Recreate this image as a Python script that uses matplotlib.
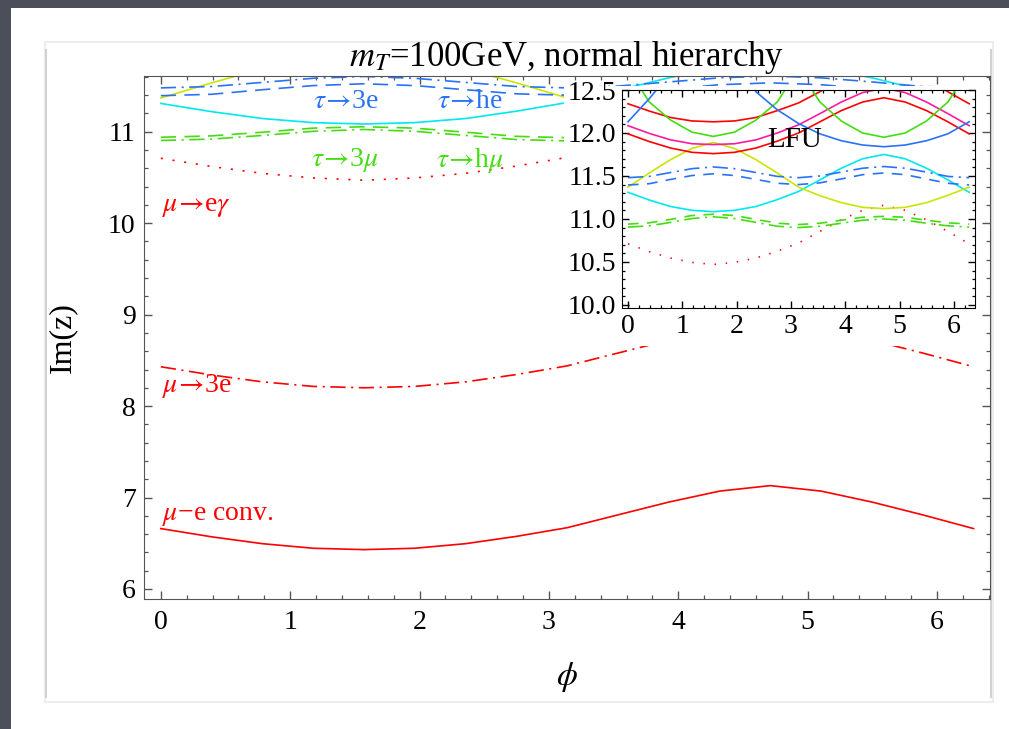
import numpy as np
import matplotlib.pyplot as plt
from matplotlib.patches import Rectangle
from matplotlib.ticker import MultipleLocator

plt.rcParams['font.family'] = ['Liberation Serif', 'DejaVu Serif']
plt.rcParams['mathtext.fontset'] = 'stix'
plt.rcParams['lines.scale_dashes'] = False

# phi grid (k*pi/8)
phi = [0.0, 0.393, 0.785, 1.178, 1.571, 1.963, 2.356, 2.749, 3.142,
       3.534, 3.927, 4.320, 4.712, 5.105, 5.498, 5.890, 6.283]

# Im(z)
mue_conv = [6.66, 6.57, 6.495, 6.445, 6.43, 6.445, 6.495, 6.575, 6.67,
            6.81, 6.95, 7.07, 7.13, 7.07, 6.95, 6.81, 6.66]
mu_3e = [8.43, 8.34, 8.265, 8.215, 8.20, 8.215, 8.265, 8.345, 8.44,
         8.58, 8.72, 8.84, 8.90, 8.84, 8.72, 8.58, 8.43]
mu_egam = [10.71, 10.62, 10.545, 10.495, 10.47, 10.495, 10.545, 10.625, 10.72,
           10.855, 10.99, 11.10, 11.16, 11.10, 10.99, 10.855, 10.71]
cyan_sol = [11.31, 11.22, 11.145, 11.10, 11.085, 11.10, 11.145, 11.225, 11.32,
            11.455, 11.59, 11.70, 11.75, 11.70, 11.59, 11.455, 11.31]
yell_sol = [11.37, 11.535, 11.69, 11.82, 11.89, 11.82, 11.69, 11.535, 11.37,
            11.27, 11.19, 11.135, 11.12, 11.135, 11.19, 11.275, 11.37]
blue_dd = [11.48, 11.495, 11.54, 11.585, 11.605, 11.585, 11.54, 11.495, 11.48,
           11.50, 11.545, 11.59, 11.61, 11.59, 11.545, 11.495, 11.48]
blue_da = [11.395, 11.41, 11.46, 11.505, 11.525, 11.505, 11.46, 11.415, 11.40,
           11.42, 11.465, 11.515, 11.535, 11.515, 11.465, 11.415, 11.395]
green_da = [10.94, 10.955, 10.995, 11.04, 11.055, 11.04, 10.995, 10.95, 10.935,
            10.95, 10.985, 11.02, 11.03, 11.02, 10.985, 10.955, 10.94]
green_dd = [10.905, 10.92, 10.96, 11.005, 11.025, 11.005, 10.96, 10.915, 10.90,
            10.915, 10.95, 10.985, 11.0, 10.985, 10.95, 10.92, 10.905]
red_lo = [11.99, 11.90, 11.825, 11.775, 11.76, 11.775, 11.825, 11.905, 12.0,
          12.13, 12.26, 12.36, 12.41, 12.36, 12.26, 12.13, 11.99]
red_hi = [12.34, 12.255, 12.18, 12.14, 12.13, 12.14, 12.18, 12.26, 12.35,
          12.48, 12.62, 12.73, 12.78, 12.73, 12.62, 12.48, 12.34]
magenta = [12.085, 11.995, 11.92, 11.875, 11.865, 11.875, 11.92, 12.0, 12.095,
           12.225, 12.36, 12.47, 12.52, 12.47, 12.36, 12.225, 12.085]
green_sol = [12.75, 12.36, 12.15, 12.01, 11.96, 12.01, 12.15, 12.36, 12.75,
             12.36, 12.14, 12.0, 11.95, 12.0, 12.14, 12.36, 12.75]
blue_sol = [12.13, 12.40, 12.70, 12.90, 13.0, 12.90, 12.48, 12.27, 12.11,
            11.99, 11.91, 11.86, 11.84, 11.86, 11.91, 11.99, 12.13]

RED = '#ff0000'
BLUE = '#2a72f5'
CYAN = '#00e8f0'
GREEN = '#44dd11'
YELLOW = '#c8e600'
MAGENTA = '#ff1aa0'

DASH = (11, 6)
DASHDOT = (11, 4, 1.5, 4)
DOT = (1.5, 7)

curves = [
    (mue_conv, RED, None),
    (mu_3e, RED, DASHDOT),
    (mu_egam, RED, DOT),
    (cyan_sol, CYAN, None),
    (yell_sol, YELLOW, None),
    (blue_dd, BLUE, DASHDOT),
    (blue_da, BLUE, DASH),
    (green_da, GREEN, DASH),
    (green_dd, GREEN, DASHDOT),
    (red_lo, RED, None),
    (red_hi, RED, None),
    (magenta, MAGENTA, None),
    (green_sol, GREEN, None),
    (blue_sol, BLUE, None),
]

fig = plt.figure(figsize=(10.09, 7.29), dpi=100)
fig.patch.set_facecolor('white')
W, H = 1009.0, 729.0
DARK = '#4c4f59'

def frect(x0, y0, x1, y1, **kw):
    # rectangle in pixel coords (top-left origin)
    r = Rectangle((x0 / W, 1 - y1 / H), (x1 - x0) / W, (y1 - y0) / H,
                  transform=fig.transFigure, **kw)
    fig.add_artist(r)
    return r

# dark slide border on the left and top only
frect(0, 0, 11, 729, facecolor=DARK, edgecolor='none', zorder=-10)
frect(0, 0, 1009, 8, facecolor=DARK, edgecolor='none', zorder=-10)
frect(45, 42, 993, 702, facecolor='white', edgecolor='#ededed', lw=1.5, zorder=-9)
fig.add_artist(plt.Line2D([46 / W, 46 / W], [1 - 50 / H, 1 - 697 / H],
                          transform=fig.transFigure, color='#d2d2d2', lw=1.5, zorder=-8))
fig.add_artist(plt.Line2D([991 / W, 991 / W], [1 - 50 / H, 1 - 697 / H],
                          transform=fig.transFigure, color='#d2d2d2', lw=1.5, zorder=-8))

def style_ticks(ax, color, xmin, ymaj, ymin, size):
    ax.xaxis.set_major_locator(MultipleLocator(1))
    ax.xaxis.set_minor_locator(MultipleLocator(xmin))
    ax.yaxis.set_major_locator(MultipleLocator(ymaj))
    ax.yaxis.set_minor_locator(MultipleLocator(ymin))
    ax.tick_params(which='both', direction='in', top=True, right=True,
                   colors=color, labelcolor='black', labelsize=size)
    ax.tick_params(which='major', length=6, width=1)
    ax.tick_params(which='minor', length=3.2, width=0.9)
    for s in ax.spines.values():
        s.set_color(color)

# main axes
ax = fig.add_axes([144 / W, 1 - 599 / H, 846 / W, 523 / H])
for ys, c, d in curves:
    ln, = ax.plot(phi, ys, color=c, lw=1.2)
    if d is not None:
        ln.set_dashes(d)
ax.set_xlim(-0.13, 6.41)
ax.set_ylim(5.89, 11.61)
style_ticks(ax, '#555555', 0.2, 1, 0.2, 20)
ax.tick_params(axis='x', pad=8)
ax.tick_params(axis='y', pad=6)
ax.set_xlabel(r'$\phi$', fontsize=24, labelpad=18)
ax.set_ylabel('Im(z)', fontsize=23, labelpad=22)
ax.set_title(r'$m_T$=100GeV, normal hierarchy', fontsize=25, pad=2)

lab = 20
ax.text(1.43, 11.33, r'$\tau\!\rightarrow\!$3e', color=BLUE, fontsize=lab, ha='center', va='center')
ax.text(2.39, 11.33, r'$\tau\!\rightarrow\!$he', color=BLUE, fontsize=lab, ha='center', va='center')
ax.text(1.42, 10.69, r'$\tau\!\rightarrow\!$3$\mu$', color=GREEN, fontsize=lab, ha='center', va='center')
ax.text(2.39, 10.69, r'$\tau\!\rightarrow\!$h$\mu$', color=GREEN, fontsize=lab, ha='center', va='center')
ax.text(0.01, 10.18, r'$\mu\!\rightarrow\!$e$\gamma$', color=RED, fontsize=lab, ha='left', va='center')
ax.text(0.01, 8.22, r'$\mu\!\rightarrow\!$3e', color=RED, fontsize=lab, ha='left', va='center')
ax.text(0.01, 6.80, '$\\mu$\u2212e conv.', color=RED, fontsize=lab, ha='left', va='center')

# white cover behind the inset (incl. its tick labels)
frect(564, 86, 980, 346, facecolor='white', edgecolor='none', zorder=1.5)

# inset
ins = fig.add_axes([622 / W, 1 - 307.5 / H, 353 / W, 217.5 / H], zorder=2)
for ys, c, d in curves:
    ln, = ins.plot(phi, ys, color=c, lw=1.2)
    if d is not None:
        ln.set_dashes((d[0] * 0.7,) + tuple(d[1:]) if len(d) == 2 else d)
ins.set_xlim(-0.11, 6.39)
ins.set_ylim(9.97, 12.5)
style_ticks(ins, 'black', 0.2, 0.5, 0.1, 20)
ins.tick_params(which='major', length=5)
ins.tick_params(which='minor', length=2.5)
ins.tick_params(axis='x', pad=5)
ins.tick_params(axis='y', pad=4)
ins.yaxis.set_major_formatter(plt.FormatStrFormatter('%.1f'))
ins.text(3.07, 11.92, 'LFU', fontsize=21, ha='center', va='center')

fig.savefig('out.png', dpi=100)
